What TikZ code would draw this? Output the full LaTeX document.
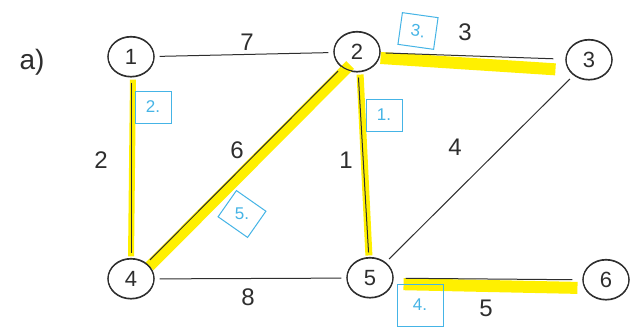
\documentclass[tikz,border=0pt]{standalone}
\usepackage{fontspec}
\setmainfont{Liberation Sans}
\usetikzlibrary{shapes.geometric}
\definecolor{hl}{HTML}{FFF000}
\definecolor{ink}{HTML}{2E2E2E}
\definecolor{mk}{HTML}{45B4E6}
\begin{document}
\begin{tikzpicture}[x=1pt,y=-1pt,
  vert/.style={draw=ink,ellipse,line width=1.1pt,minimum width=46pt,minimum height=40pt,inner sep=0pt,font=\fontsize{22}{24}\selectfont,text=ink},
  wedge/.style={draw=ink,line width=1pt,shorten <=5pt,shorten >=5pt},
  hilite/.style={draw=hl,line width=#1,shorten <=2pt,shorten >=2pt},
  wlab/.style={font=\fontsize{24}{26}\selectfont,text=ink},
  ordbox/.style={draw=mk,text=mk,line width=1pt,font=\fontsize{17}{18}\selectfont,minimum width=36pt,minimum height=32pt,inner sep=0pt},
  ordtext/.style={text=mk,font=\fontsize{17}{18}\selectfont,inner sep=0pt}
]
\useasboundingbox (0,0) rectangle (635,332);
\fill[white] (0,0) rectangle (635,332);

% vertices
\node[vert] (n1) at (131,57) {1};
\node[vert] (n2) at (357,52) {2};
\node[vert] (n3) at (589,60) {3};
\node[vert] (n4) at (131,279) {4};
\node[vert] (n5) at (370,278) {5};
\node[vert] (n6) at (606,280) {6};

% highlights (minimum spanning tree)
\draw[hilite=6pt] ([xshift=2pt]n1.south) -- ([xshift=0pt]n4.north);
\draw[hilite=11pt,shorten <=14pt,shorten >=22pt] ([shift={(3pt,-3pt)}]n2.center) -- ([shift={(3pt,-3pt)}]n4.center);
\draw[hilite=7pt] ([xshift=3pt]n2.south) -- ([xshift=-1pt]n5.north);
\draw[hilite=12pt,shorten <=0pt,shorten >=10pt] ([yshift=-6pt]n2.east) -- ([yshift=-10pt]n3.west);
\draw[hilite=12pt,shorten <=10pt,shorten >=5pt] ([yshift=-6pt]n5.east) -- ([yshift=-8pt]n6.west);
% redraw node outlines over highlights
\foreach \v in {n1,n2,n3,n4,n5,n6} \draw[ink,line width=1.1pt] (\v.north) arc[start angle=90,end angle=450,x radius=23pt,y radius=20pt];

% edges
\draw[wedge] (n1) -- (n2);
\draw[wedge] (n1) -- (n4);
\draw[wedge] (n2) -- (n4);
\draw[wedge] (n2) -- (n5);
\draw[wedge,shorten >=12pt] (n2) -- (n3);
\draw[wedge] (n3) -- (n5);
\draw[wedge] (n4) -- (n5);
\draw[wedge,shorten <=12pt,shorten >=10pt] (n5) -- (n6);

% weights
\node[wlab] (w12) at (247,42) {7};
\node[wlab] (w14) at (101,160) {2};
\node[wlab] (w24) at (237,150) {6};
\node[wlab] (w25) at (346,160) {1};
\node[wlab] (w23) at (465,32) {3};
\node[wlab] (w35) at (455,147) {4};
\node[wlab] (w45) at (248,297) {8};
\node[wlab] (w56) at (486,308) {5};

% order marks
\node[ordbox] (o1) at (384,115) {1.};
\node[ordbox] (o2) at (153,107) {2.};
\node[ordbox,rotate=-8] (o3) at (418,31) {3.};
\node[ordbox,minimum width=46pt,minimum height=42pt] (o4) at (420,305) {4.};
\node[ordtext] (o5) at (242,214) {5.};
\draw[mk,line width=1pt,rotate around={-35:(o5.center)}] ([shift={(-18pt,-16pt)}]o5.center) rectangle ([shift={(18pt,16pt)}]o5.center);

% part label
\node[font=\fontsize{28}{30}\selectfont,text=ink] (lab) at (32,62) {a)};
\end{tikzpicture}
\end{document}
